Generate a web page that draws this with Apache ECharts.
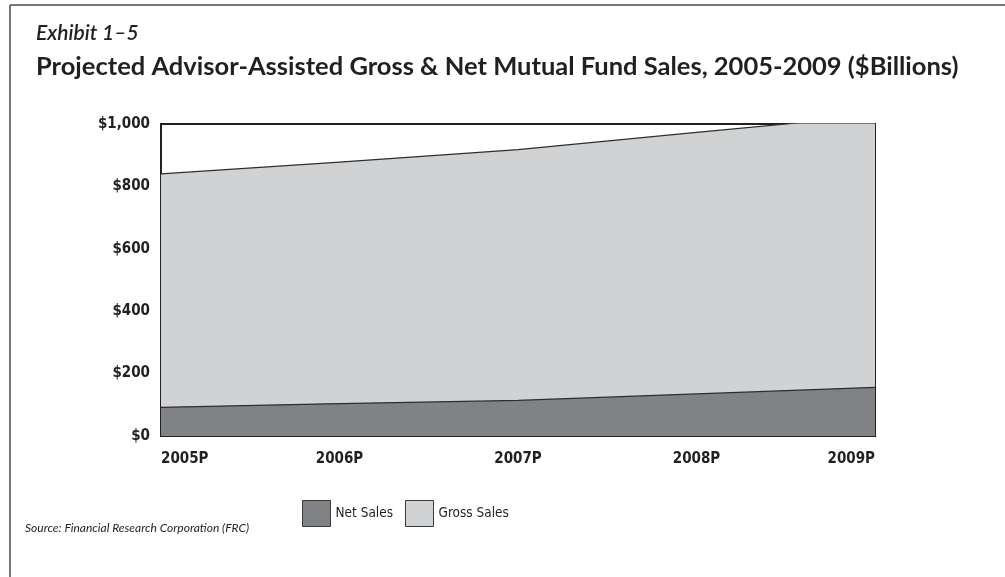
<!DOCTYPE html>
<html>
<head>
<meta charset="utf-8">
<script src="https://cdn.jsdelivr.net/npm/echarts@6/dist/echarts.min.js"></script>
<style>
  html, body { margin: 0; padding: 0; background: #ffffff; }
  #chart { width: 1005px; height: 577px; }
</style>
</head>
<body>
<div id="chart"></div>
<script>
// Projected advisor-assisted mutual fund sales, $ billions
const years = ['2005P', '2006P', '2007P', '2008P', '2009P'];
const grossSales = [840, 878, 918, 973, 1027];
const netSales = [92, 104, 114, 135, 156];
const yTicks = [0, 200, 400, 600, 800, 1000];

// pick the first condensed face that is actually available
function pickFont(candidates, fallback) {
  const ctx = document.createElement('canvas').getContext('2d');
  const probe = 'Gross Sales $1,000 2005P';
  ctx.font = '40px monospace';
  const base = ctx.measureText(probe).width;
  for (const name of candidates) {
    ctx.font = '40px "' + name + '", monospace';
    if (Math.abs(ctx.measureText(probe).width - base) > 0.5) return '"' + name + '"';
  }
  return fallback;
}
const narrow = pickFont(['Liberation Sans Narrow', 'DejaVu Sans Condensed', 'Roboto Condensed', 'Open Sans Condensed'], null);
const labelFont = narrow ? narrow + ', sans-serif' : 'Lato, sans-serif';
const labelSize = narrow ? 15 : 14;
const titleFont = 'Lato, "Open Sans", sans-serif';

const chart = echarts.init(document.getElementById('chart'), null, { renderer: 'canvas' });

chart.setOption({
  backgroundColor: '#ffffff',
  animation: false,
  graphic: [
    // page frame (top and left rules)
    { type: 'line', shape: { x1: 10, y1: 5, x2: 1005, y2: 5 }, style: { stroke: '#4a4a4a', lineWidth: 1.5 } },
    { type: 'line', shape: { x1: 10, y1: 5, x2: 10, y2: 577 }, style: { stroke: '#4a4a4a', lineWidth: 1.5 } },
    { type: 'text', left: 36, top: 23, style: { text: 'Exhibit 1–5', font: 'italic 600 21px ' + titleFont, fill: '#231f20' } },
    { type: 'text', left: 36, top: 54, style: { text: 'Projected Advisor-Assisted Gross & Net Mutual Fund Sales, 2005-2009 ($Billions)', font: 'bold 25.5px ' + titleFont, fill: '#231f20' } },
    { type: 'text', left: 25, top: 522, style: { text: 'Source: Financial Research Corporation (FRC)', font: 'italic 12px ' + titleFont, fill: '#231f20' } }
  ],
  legend: {
    left: 297,
    top: 495,
    icon: 'rect',
    itemWidth: 28,
    itemHeight: 26,
    itemGap: 12,
    textStyle: { fontFamily: labelFont, fontSize: 13.5, color: '#231f20' },
    data: [
      { name: 'Net Sales', itemStyle: { color: '#808285', borderColor: '#3a3a3a', borderWidth: 1 } },
      { name: 'Gross Sales', itemStyle: { color: '#d1d2d4', borderColor: '#3a3a3a', borderWidth: 1 } }
    ]
  },
  grid: {
    left: 161,
    top: 124,
    right: 130,
    bottom: 141,
    show: true,
    borderColor: '#231f20',
    borderWidth: 2,
    containLabel: false
  },
  xAxis: {
    type: 'category',
    data: years,
    boundaryGap: false,
    axisLine: { show: false },
    axisTick: { show: false },
    splitLine: { show: false },
    axisLabel: {
      margin: 16,
      fontFamily: labelFont,
      fontWeight: 'bold',
      fontSize: labelSize,
      color: '#231f20',
      alignMinLabel: 'left',
      alignMaxLabel: 'right'
    }
  },
  yAxis: {
    type: 'value',
    min: yTicks[0],
    max: yTicks[yTicks.length - 1],
    interval: 200,
    axisLine: { show: false },
    axisTick: { show: false },
    splitLine: { show: false },
    axisLabel: {
      margin: 11,
      fontFamily: labelFont,
      fontWeight: 'bold',
      fontSize: labelSize,
      color: '#231f20',
      formatter: v => '$' + v.toLocaleString('en-US')
    }
  },
  series: [
    {
      name: 'Gross Sales',
      type: 'line',
      data: grossSales,
      symbol: 'none',
      clip: true,
      lineStyle: { color: '#2e2e2e', width: 1.2 },
      areaStyle: { color: '#d1d2d4', opacity: 1 },
      itemStyle: { color: '#d1d2d4' },
      z: 1
    },
    {
      name: 'Net Sales',
      type: 'line',
      data: netSales,
      symbol: 'none',
      clip: true,
      lineStyle: { color: '#2e2e2e', width: 1.2 },
      areaStyle: { color: '#808285', opacity: 1 },
      itemStyle: { color: '#808285' },
      z: 2
    }
  ]
});
</script>
</body>
</html>
